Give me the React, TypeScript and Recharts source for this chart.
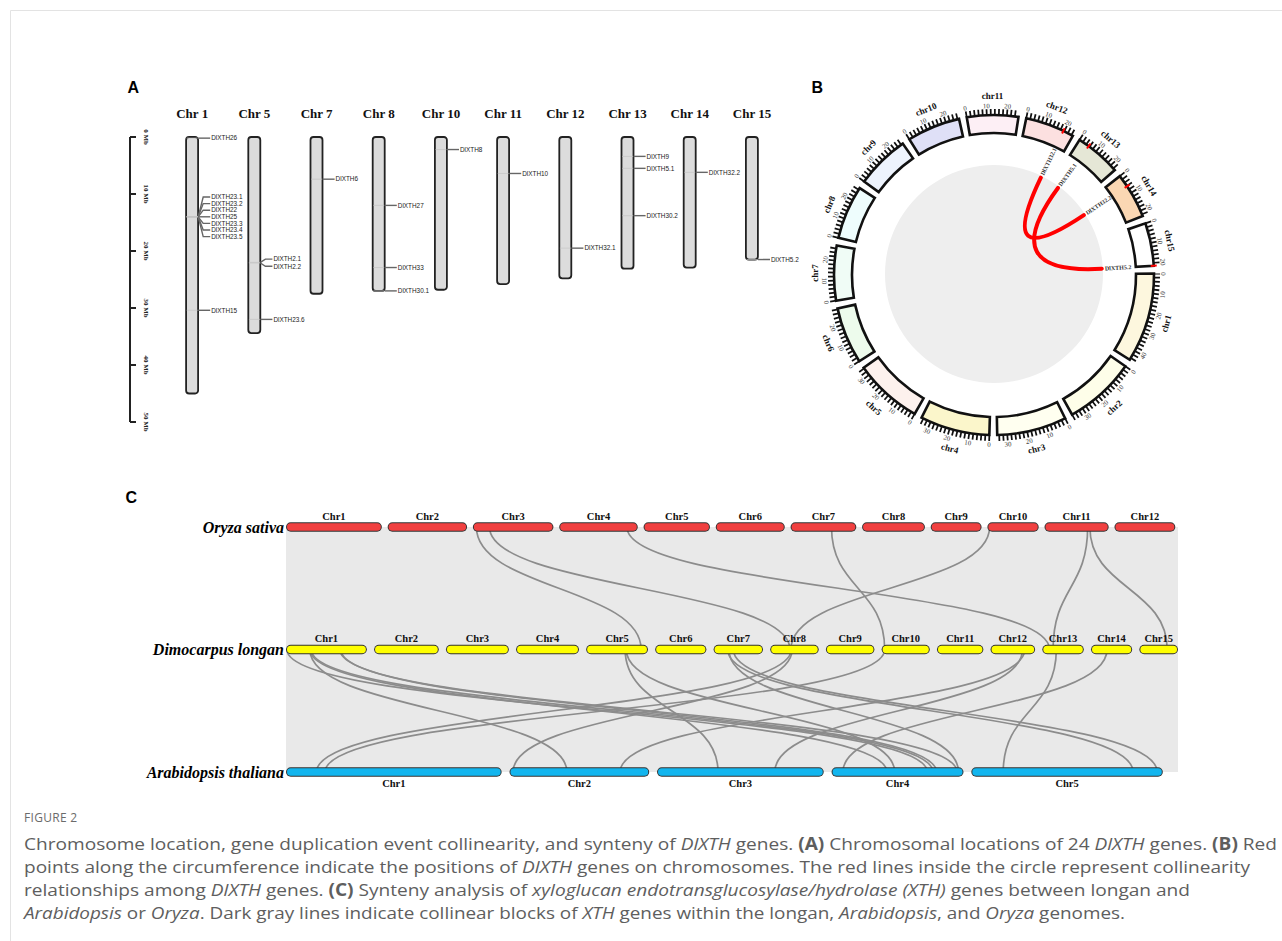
import React from "react";
import {
  ComposedChart,
  Bar,
  Scatter,
  Line,
  Area,
  XAxis,
  YAxis,
  PieChart,
  Pie,
  Cell,
} from "recharts";

const SERIF = "'Liberation Serif', 'Times New Roman', serif";
const SANS = "'Liberation Sans', Arial, sans-serif";

// ---------- A: chromosome locations ----------
const CHR_A = ["Chr 1", "Chr 5", "Chr 7", "Chr 8", "Chr 10", "Chr 11", "Chr 12", "Chr 13", "Chr 14", "Chr 15"];
const LEN_A = [45.0, 34.4, 27.5, 27.0, 26.8, 25.8, 24.8, 23.1, 22.9, 21.5];
const MB_TICKS = [0, 10, 20, 30, 40, 50];
const GENES = [
  "DlXTH26", "DlXTH23.1", "DlXTH23.2", "DlXTH22", "DlXTH25", "DlXTH23.3", "DlXTH23.4", "DlXTH23.5", "DlXTH15",
  "DlXTH2.1", "DlXTH2.2", "DlXTH23.6", "DlXTH6", "DlXTH27", "DlXTH33", "DlXTH30.1", "DlXTH8", "DlXTH10",
  "DlXTH32.1", "DlXTH9", "DlXTH5.1", "DlXTH30.2", "DlXTH32.2", "DlXTH5.2",
];
const GENE_CHR = [
  "Chr 1", "Chr 1", "Chr 1", "Chr 1", "Chr 1", "Chr 1", "Chr 1", "Chr 1", "Chr 1",
  "Chr 5", "Chr 5", "Chr 5", "Chr 7", "Chr 8", "Chr 8", "Chr 8", "Chr 10", "Chr 11",
  "Chr 12", "Chr 13", "Chr 13", "Chr 13", "Chr 14", "Chr 15",
];
const GENE_MB = [
  0.2, 14.0, 14.0, 14.0, 14.0, 14.0, 14.0, 14.0, 30.4,
  22.0, 22.1, 32.0, 7.4, 12.0, 22.9, 27.0, 2.2, 6.4,
  19.5, 3.4, 5.5, 13.8, 6.2, 21.5,
];

// ---------- B: circos ----------
const CHR_B = ["chr1", "chr2", "chr3", "chr4", "chr5", "chr6", "chr7", "chr8", "chr9", "chr10", "chr11", "chr12", "chr13", "chr14", "chr15"];
const LEN_B = [45, 36, 35, 35, 34.4, 28.5, 27.5, 27, 27, 26.8, 25.8, 24.8, 23.1, 22.9, 21.5];
const FILL_B = [
  "#fdf7de", "#fefee9", "#fffff0", "#fbf6cb", "#fdf1ed", "#edfbec", "#f0fcf6", "#eefdfd",
  "#edf3fd", "#dfe0f7", "#fdeff5", "#fce0e0", "#e5e7d6", "#fbd7b3", "#ffffff",
];
const DUP_GENE = ["DlXTH32.1", "DlXTH5.1", "DlXTH32.2", "DlXTH5.2"];
const DUP_CHR = ["chr12", "chr13", "chr14", "chr15"];
const DUP_MB = [19.5, 5.5, 6.2, 21.5];
const DUP_PAIRS = [
  ["DlXTH32.1", "DlXTH32.2"],
  ["DlXTH5.1", "DlXTH5.2"],
];

// ---------- C: synteny ----------
const SPECIES = ["Oryza sativa", "Dimocarpus longan", "Arabidopsis thaliana"];
const OS_CHR = ["Chr1", "Chr2", "Chr3", "Chr4", "Chr5", "Chr6", "Chr7", "Chr8", "Chr9", "Chr10", "Chr11", "Chr12"];
const OS_LEN = [43.3, 35.9, 36.4, 35.5, 30.0, 31.2, 29.7, 28.4, 23.0, 23.2, 29.0, 27.5];
const DL_CHR = ["Chr1", "Chr2", "Chr3", "Chr4", "Chr5", "Chr6", "Chr7", "Chr8", "Chr9", "Chr10", "Chr11", "Chr12", "Chr13", "Chr14", "Chr15"];
const DL_LEN = [45, 36, 35, 35, 34.4, 28.5, 27.5, 27, 27, 26.8, 25.8, 24.8, 23.1, 22.9, 21.5];
const AT_CHR = ["Chr1", "Chr2", "Chr3", "Chr4", "Chr5"];
const AT_LEN = [30.4, 19.7, 23.5, 18.6, 27.0];
// [rice chr, Mb, longan chr, Mb]
const OS_DL_LINKS: [string, number, string, number][] = [
  ["Chr3", 1.6, "Chr5", 30.6],
  ["Chr3", 7.5, "Chr8", 11.0],
  ["Chr4", 30.6, "Chr13", 4.0],
  ["Chr7", 18.5, "Chr10", 1.7],
  ["Chr10", 1.0, "Chr8", 11.5],
  ["Chr11", 19.5, "Chr13", 6.0],
  ["Chr11", 20.5, "Chr15", 15.5],
];
// [longan chr, Mb, arabidopsis chr, Mb]
const DL_AT_LINKS: [string, number, string, number][] = [
  ["Chr1", 0.5, "Chr4", 13.5],
  ["Chr1", 13.3, "Chr2", 8.1],
  ["Chr1", 13.3, "Chr4", 7.8],
  ["Chr1", 14.0, "Chr4", 14.3],
  ["Chr1", 30.0, "Chr4", 17.7],
  ["Chr1", 30.5, "Chr4", 14.8],
  ["Chr5", 21.7, "Chr3", 8.6],
  ["Chr5", 22.3, "Chr4", 8.9],
  ["Chr7", 7.8, "Chr5", 22.8],
  ["Chr7", 11.0, "Chr5", 26.2],
  ["Chr7", 8.5, "Chr4", 17.9],
  ["Chr8", 11.7, "Chr1", 4.3],
  ["Chr8", 12.2, "Chr2", 0.5],
  ["Chr10", 1.7, "Chr1", 5.5],
  ["Chr12", 17.8, "Chr3", 16.6],
  ["Chr12", 19.0, "Chr2", 15.6],
  ["Chr13", 7.8, "Chr5", 4.5],
  ["Chr14", 8.9, "Chr4", 1.6],
];

// ---------------- panel A ----------------
const chromA = CHR_A.map((name, i) => ({ idx: i, name, len: LEN_A[i] }));
const genesA = GENES.map((gene, i) => ({ idx: CHR_A.indexOf(GENE_CHR[i]), mb: GENE_MB[i], gene }));

function GeneMark(p: any) {
  const { cx, cy, payload } = p;
  // genes at the same locus get their labels fanned out
  const peers = genesA.filter((g) => g.idx === payload.idx && Math.abs(g.mb - payload.mb) < 1);
  const k = peers.findIndex((g) => g.gene === payload.gene);
  const ly = cy + (k - (peers.length - 1) / 2) * 6.6;
  const edge = cx + 6;
  const pts =
    peers.length > 1
      ? `${edge},${cy} ${edge + 5},${ly} ${edge + 12},${ly}`
      : `${edge},${cy} ${edge + 12},${cy}`;
  return (
    <g>
      <line x1={cx - 5.5} x2={cx + 5.5} y1={cy} y2={cy} stroke="#c4c4c4" strokeWidth={0.7} />
      <polyline points={pts} fill="none" stroke="#666" strokeWidth={1.4} />
      <text x={edge + 13} y={ly} dy="0.35em" fontSize={6.4} fontFamily={SANS} fill="#222">
        {payload.gene}
      </text>
    </g>
  );
}

function MbTick(p: any) {
  const x = p.x + 6;
  const y = p.y;
  return (
    <text x={x} y={y} transform={`rotate(90 ${x} ${y})`} textAnchor="middle" fontFamily={SERIF} fontWeight={700} fontSize={7} fill="#222">
      {`${p.payload.value} Mb`}
    </text>
  );
}

function ChromosomeMap() {
  return (
    <ComposedChart width={830} height={440} data={chromA} margin={{ top: 107, right: 15.8, bottom: 18, left: 130 }}>
      <XAxis
        dataKey="idx"
        type="number"
        domain={[-1, 10]}
        ticks={chromA.map((d) => d.idx)}
        tickFormatter={(i: number) => CHR_A[i]}
        orientation="top"
        axisLine={false}
        tickLine={false}
        tickMargin={13.5}
        interval={0}
        allowDataOverflow
        tick={{ fontFamily: SERIF, fontWeight: 700, fontSize: 13, fill: "#111" }}
      />
      <YAxis
        type="number"
        domain={[0, 50]}
        ticks={MB_TICKS}
        reversed
        mirror
        width={30}
        interval={0}
        tickSize={6}
        axisLine={{ stroke: "#222", strokeWidth: 2 }}
        tickLine={{ stroke: "#222", strokeWidth: 2 }}
        tick={(p: any) => <MbTick {...p} />}
      />
      <Bar dataKey="len" barSize={12} fill="#dcdcdc" stroke="#222" strokeWidth={1.8} radius={3} isAnimationActive={false} />
      <Scatter data={genesA} dataKey="mb" shape={GeneMark} isAnimationActive={false} />
    </ComposedChart>
  );
}

// ---------------- panel B ----------------
const GAP_B = 3.9; // blank between ideograms, in Mb
const START_B = 0.5;
const offB: number[] = [];
LEN_B.reduce((acc, l, i) => {
  offB[i] = acc;
  return acc + l + GAP_B;
}, 0);
const TOTAL_B = LEN_B.reduce((a, b) => a + b, 0) + GAP_B * LEN_B.length;
const globalB = (chr: string, mb: number) => offB[CHR_B.indexOf(chr)] + mb;

const ringData = CHR_B.flatMap((c, i) => [{ v: LEN_B[i], chr: c, fill: FILL_B[i] }, { v: GAP_B }]);

function markTrack(marks: any[]) {
  const out: any[] = [];
  let cur = 0;
  marks.forEach((m) => {
    const s = Math.max(m.at - m.w / 2, cur);
    if (s > cur) out.push({ v: s - cur });
    const e = m.at + m.w / 2;
    out.push({ ...m, v: e - s, mark: true });
    cur = e;
  });
  if (TOTAL_B > cur) out.push({ v: TOTAL_B - cur });
  return out;
}

const tickTrack = markTrack(
  CHR_B.flatMap((c, i) => {
    const t: any[] = [];
    for (let m = 0; m <= LEN_B[i]; m += 2) t.push({ at: offB[i] + m, w: 0.85, lbl: m % 10 === 0 ? String(m) : undefined });
    return t;
  })
);
const dupTrack = markTrack(DUP_GENE.map((g, i) => ({ at: globalB(DUP_CHR[i], DUP_MB[i]), w: 1.0, gene: g })));
const linkTracks = DUP_PAIRS.map(([a, b]) => {
  const pa = globalB(DUP_CHR[DUP_GENE.indexOf(a)], DUP_MB[DUP_GENE.indexOf(a)]);
  const pb = globalB(DUP_CHR[DUP_GENE.indexOf(b)], DUP_MB[DUP_GENE.indexOf(b)]);
  return [{ v: pa }, { v: pb - pa, link: true }, { v: TOTAL_B - pb }];
});

const RAD = Math.PI / 180;
const polar = (cx: number, cy: number, r: number, a: number) => [cx + r * Math.cos(a * RAD), cy - r * Math.sin(a * RAD)];
const upright = (a: number) => {
  const t = (((90 - a) % 360) + 360) % 360;
  return t > 90 && t < 270 ? t - 180 : t;
};
const field = (p: any, k: string) => (p[k] !== undefined ? p[k] : p.payload ? p.payload[k] : undefined);

const renderChrName = (p: any) => {
  const chr = field(p, "chr");
  if (!chr) return null;
  const [x, y] = polar(p.cx, p.cy, 179, p.midAngle);
  return (
    <text x={x} y={y} transform={`rotate(${upright(p.midAngle)} ${x} ${y})`} textAnchor="middle" dominantBaseline="central" fontFamily={SERIF} fontWeight={700} fontSize={9} fill="#111">
      {chr}
    </text>
  );
};
const renderTickLabel = (p: any) => {
  const lbl = field(p, "lbl");
  if (lbl == null) return null;
  const [x, y] = polar(p.cx, p.cy, 169.5, p.midAngle);
  return (
    <text x={x} y={y} transform={`rotate(${upright(p.midAngle)} ${x} ${y})`} textAnchor="middle" dominantBaseline="central" fontFamily={SERIF} fontSize={6.8} fill="#333">
      {lbl}
    </text>
  );
};
const renderDupName = (p: any) => {
  const gene = field(p, "gene");
  if (!gene) return null;
  const [x, y] = polar(p.cx, p.cy, 111, p.midAngle);
  return (
    <text x={x} y={y} transform={`rotate(${-p.midAngle} ${x} ${y})`} textAnchor="start" dominantBaseline="central" fontFamily={SERIF} fontWeight={700} fontSize={6} fill="#333">
      {gene}
    </text>
  );
};
const renderChord = (p: any) => {
  if (!field(p, "link")) return null;
  const [x0, y0] = polar(p.cx, p.cy, 108, p.startAngle);
  const [x1, y1] = polar(p.cx, p.cy, 108, p.endAngle);
  return <path d={`M${x0},${y0} Q${p.cx},${p.cy} ${x1},${y1}`} fill="none" stroke="#ff0000" strokeWidth={4} strokeLinecap="round" />;
};

function CircosPlot() {
  const common: any = {
    cx: 200,
    cy: 200,
    startAngle: START_B,
    endAngle: START_B - 360,
    dataKey: "v",
    isAnimationActive: false,
    labelLine: false,
  };
  return (
    <PieChart width={400} height={400} margin={{ top: 0, right: 0, bottom: 0, left: 0 }}>
      <Pie {...common} data={[{ v: 1 }]} innerRadius={0} outerRadius={109} fill="#eeeeee" stroke="none" />
      {linkTracks.map((t, i) => (
        <Pie key={"lk" + i} {...common} data={t} innerRadius={107} outerRadius={108} fill="none" stroke="none" label={renderChord} />
      ))}
      <Pie {...common} data={ringData} innerRadius={142} outerRadius={160} label={renderChrName}>
        {ringData.map((d: any, i) => (
          <Cell key={i} fill={d.chr ? d.fill : "none"} stroke={d.chr ? "#111" : "none"} strokeWidth={2.6} />
        ))}
      </Pie>
      <Pie {...common} data={tickTrack} innerRadius={160} outerRadius={166} label={renderTickLabel}>
        {tickTrack.map((d: any, i) => (
          <Cell key={i} fill={d.mark ? "#111" : "none"} stroke="none" />
        ))}
      </Pie>
      <Pie {...common} data={dupTrack} innerRadius={157} outerRadius={163} label={renderDupName}>
        {dupTrack.map((d: any, i) => (
          <Cell key={i} fill={d.mark ? "#ff0000" : "none"} stroke="none" />
        ))}
      </Pie>
    </PieChart>
  );
}

// ---------------- panel C ----------------
const PLOT_W_C = 892;
const CAP = 4.75 / PLOT_W_C; // round cap inset
const ROW_GAP = [2.6, 4.0, 1.1];
const ROW_SPAN = [0.997, 1, 0.983];
const ROW_COLOR = ["#f04040", "#ffff00", "#12b5ee"];
const SP_CHR = [OS_CHR, DL_CHR, AT_CHR];
const SP_LEN = [OS_LEN, DL_LEN, AT_LEN];

function rowLayout(chr: string[], len: number[], gap: number, span: number) {
  const off: number[] = [];
  let acc = 0;
  len.forEach((l, i) => {
    off[i] = acc;
    acc += l + gap;
  });
  const total = acc - gap;
  return (c: string, mb: number) => ((off[chr.indexOf(c)] + mb) / total) * span;
}
const POS = SP_CHR.map((chr, s) => rowLayout(chr, SP_LEN[s], ROW_GAP[s], ROW_SPAN[s]));

const BG = [
  { x: 0, band: [0, 2] },
  { x: 1, band: [0, 2] },
];

function ChrLabel(p: any) {
  const below = p.payload.y === 2;
  return (
    <text x={p.cx} y={below ? p.cy + 14.5 : p.cy - 7.5} textAnchor="middle" fontFamily={SERIF} fontWeight={700} fontSize={10.5} fill="#111">
      {p.payload.name}
    </text>
  );
}

function SyntenyPlot() {
  const links = [
    ...OS_DL_LINKS.map(([c0, m0, c1, m1]) => [
      { x: POS[0](c0, m0), y: 0 },
      { x: POS[1](c1, m1), y: 1 },
    ]),
    ...DL_AT_LINKS.map(([c0, m0, c1, m1]) => [
      { x: POS[1](c0, m0), y: 1 },
      { x: POS[2](c1, m1), y: 2 },
    ]),
  ];
  const pills = SP_CHR.flatMap((chrs, s) =>
    chrs.map((c, i) => ({
      s,
      pts: [
        { x: POS[s](c, 0) + CAP, y: s },
        { x: POS[s](c, SP_LEN[s][i]) - CAP, y: s },
      ],
    }))
  );
  const labels = SP_CHR.flatMap((chrs, s) => chrs.map((c, i) => ({ x: POS[s](c, SP_LEN[s][i] / 2), y: s, name: c })));
  return (
    <ComposedChart width={1282} height={320} margin={{ top: 12.5, right: 104, bottom: 13.5, left: 0 }}>
      <XAxis type="number" dataKey="x" domain={[0, 1]} hide allowDataOverflow />
      <YAxis
        type="number"
        domain={[-0.2, 2.2]}
        reversed
        ticks={[0, 1, 2]}
        interval={0}
        width={286}
        tickSize={0}
        tickMargin={2}
        axisLine={false}
        tickLine={false}
        tickFormatter={(v: number) => SPECIES[v]}
        tick={{ fontFamily: SERIF, fontStyle: "italic", fontWeight: 700, fontSize: 16, fill: "#000" }}
      />
      <Area data={BG} dataKey="band" type="linear" stroke="none" fill="#e9e9e9" fillOpacity={1} dot={false} activeDot={false} isAnimationActive={false} />
      {links.map((d, i) => (
        <Line key={"ln" + i} data={d} dataKey="y" type="bumpY" stroke="#8c8c8c" strokeWidth={1.7} dot={false} activeDot={false} isAnimationActive={false} />
      ))}
      {pills.map((p, i) => (
        <Line key={"po" + i} data={p.pts} dataKey="y" stroke="#333" strokeWidth={9.5} strokeLinecap="round" dot={false} activeDot={false} isAnimationActive={false} />
      ))}
      {pills.map((p, i) => (
        <Line key={"pf" + i} data={p.pts} dataKey="y" stroke={ROW_COLOR[p.s]} strokeWidth={7.5} strokeLinecap="round" dot={false} activeDot={false} isAnimationActive={false} />
      ))}
      <Scatter data={labels} dataKey="y" shape={ChrLabel} isAnimationActive={false} />
    </ComposedChart>
  );
}

// ---------------- caption ----------------
type Seg = [string, string?];
const CAPTION: Seg[][] = [
  [
    ["Chromosome location, gene duplication event collinearity, and synteny of "],
    ["DlXTH", "i"],
    [" genes. "],
    ["(A)", "b"],
    [" Chromosomal locations of 24 "],
    ["DlXTH", "i"],
    [" genes. "],
    ["(B)", "b"],
    [" Red"],
  ],
  [
    ["points along the circumference indicate the positions of "],
    ["DlXTH", "i"],
    [" genes on chromosomes. The red lines inside the circle represent collinearity"],
  ],
  [
    ["relationships among "],
    ["DlXTH", "i"],
    [" genes. "],
    ["(C)", "b"],
    [" Synteny analysis of "],
    ["xyloglucan endotransglucosylase/hydrolase (XTH)", "i"],
    [" genes between longan and"],
  ],
  [
    ["Arabidopsis", "i"],
    [" or "],
    ["Oryza", "i"],
    [". Dark gray lines indicate collinear blocks of "],
    ["XTH", "i"],
    [" genes within the longan, "],
    ["Arabidopsis", "i"],
    [", and "],
    ["Oryza", "i"],
    [" genomes."],
  ],
];
const CAPTION_W = [1253, 1226, 1166, 1101];

function Overlay() {
  return (
    <svg width={1282} height={941} style={{ position: "absolute", left: 0, top: 0 }}>
      <path d="M10.5,941 V10.5 H1282" fill="none" stroke="#e3e3e3" strokeWidth={1} />
      <text x={127.5} y={93} fontFamily={SANS} fontWeight={700} fontSize={16} fill="#000">A</text>
      <text x={811.5} y={93} fontFamily={SANS} fontWeight={700} fontSize={16} fill="#000">B</text>
      <text x={125.5} y={503} fontFamily={SANS} fontWeight={700} fontSize={16} fill="#000">C</text>
      <text x={24} y={822} fontFamily="'Open Sans', sans-serif" fontSize={12} fill="#6b6b6b" letterSpacing={0.3}>
        FIGURE 2
      </text>
      {CAPTION.map((line, i) => (
        <text
          key={i}
          x={24}
          y={849.5 + i * 23.3}
          textLength={CAPTION_W[i]}
          lengthAdjust="spacingAndGlyphs"
          fontFamily="'Open Sans', sans-serif"
          fontSize={17}
          fill="#5e5e5e"
          style={{ whiteSpace: "pre" }}
        >
          {line.map(([t, s], j) => (
            <tspan key={j} fontStyle={s === "i" ? "italic" : "normal"} fontWeight={s === "b" ? 700 : 400}>
              {t}
            </tspan>
          ))}
        </text>
      ))}
    </svg>
  );
}

export default function App() {
  return (
    <div style={{ position: "absolute", left: 0, top: 0, width: 1282, height: 941, background: "#fff", overflow: "hidden" }}>
      <Overlay />
      <div style={{ position: "absolute", left: 0, top: 0 }}>
        <ChromosomeMap />
      </div>
      <div style={{ position: "absolute", left: 794, top: 75 }}>
        <CircosPlot />
      </div>
      <div style={{ position: "absolute", left: 0, top: 490 }}>
        <SyntenyPlot />
      </div>
    </div>
  );
}
